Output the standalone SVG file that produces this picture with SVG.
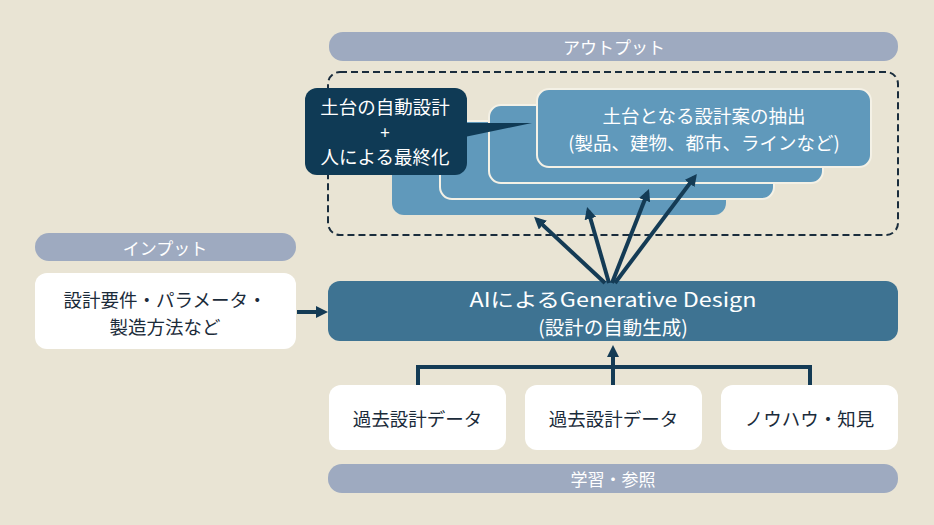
<svg xmlns="http://www.w3.org/2000/svg" width="934" height="525" viewBox="0 0 934 525">
<style>
.t{font-family:"Noto Sans CJK JP","Noto Sans",sans-serif;text-anchor:middle;dominant-baseline:central;font-weight:400}
.w{fill:#ffffff}
.d{fill:#1b2b3a}
.bar{fill:#9eaac0}
.wb{fill:#ffffff}
.card{fill:#6099bb}
.cs{stroke:#f4f1e6;stroke-width:2}
.ln{stroke:#143b55;stroke-width:4;fill:none}
</style>
<defs>
<marker id="ah" viewBox="0 0 12 12" markerWidth="12" markerHeight="12" refX="8" refY="6" orient="auto" markerUnits="userSpaceOnUse">
<path d="M0,0 L12,6 L0,12 z" fill="#143b55"/>
</marker>
</defs>
<rect width="934" height="525" fill="#e9e4d4"/>

<g id="output-label">
<rect class="bar" x="329" y="32" width="569" height="29" rx="14"/>
<text class="t w" x="614" y="46.5" font-size="17">アウトプット</text>
</g>

<g id="output-area">
<rect x="328" y="72" width="570" height="163" rx="12" fill="none" stroke="#1a2d3d" stroke-width="2" stroke-dasharray="7 4"/>
</g>

<g id="design-cards">
<rect class="card" x="392" y="137" width="334" height="78" rx="12"/>
<rect class="card cs" x="440" y="121" width="334" height="78" rx="12"/>
<rect class="card cs" x="489" y="105" width="334" height="78" rx="12"/>
<rect class="card cs" x="537" y="89" width="334" height="78" rx="12"/>
<text class="t w" x="704" y="115" font-size="18.5">土台となる設計案の抽出</text>
<text class="t w" x="704" y="142" font-size="18.5">(製品、建物、都市、ラインなど)</text>
</g>

<g id="callout">
<polygon points="455,123 532,123 455,139" fill="#0f3a55"/>
<rect x="305" y="88" width="162" height="87" rx="12" fill="#0f3a55"/>
<text class="t w" x="385" y="106" font-size="18.5" font-weight="500">土台の自動設計</text>
<text class="t w" x="385" y="131" font-size="17">+</text>
<text class="t w" x="385" y="156" font-size="18.5" font-weight="500">人による最終化</text>
</g>

<g id="input-label">
<rect class="bar" x="35" y="233" width="261" height="28" rx="14"/>
<text class="t w" x="165" y="247" font-size="17">インプット</text>
</g>

<g id="input-box">
<rect class="wb" x="35" y="273" width="261" height="76" rx="12"/>
<text class="t d" x="165" y="299" font-size="18.5" font-weight="500">設計要件・パラメータ・</text>
<text class="t d" x="165" y="326" font-size="18.5" font-weight="500">製造方法など</text>
</g>

<g id="ai-box">
<rect x="328" y="281" width="570" height="60" rx="12" fill="#3e7392"/>
<text class="t w" x="613" y="298" font-size="19.5" textLength="287" lengthAdjust="spacingAndGlyphs">AIによるGenerative Design</text>
<text class="t w" x="613" y="326" font-size="19.5">(設計の自動生成)</text>
</g>

<g id="data-1">
<rect class="wb" x="329" y="385" width="177" height="65" rx="12"/>
<text class="t d" x="417.5" y="418" font-size="18.5" font-weight="500">過去設計データ</text>
</g>
<g id="data-2">
<rect class="wb" x="525" y="385" width="177" height="65" rx="12"/>
<text class="t d" x="613.5" y="418" font-size="18.5" font-weight="500">過去設計データ</text>
</g>
<g id="knowhow">
<rect class="wb" x="721" y="385" width="177" height="65" rx="12"/>
<text class="t d" x="809.5" y="418" font-size="18.5" font-weight="500">ノウハウ・知見</text>
</g>

<g id="learning-label">
<rect class="bar" x="328" y="464" width="570" height="29" rx="14"/>
<text class="t w" x="613" y="478.5" font-size="17">学習・参照</text>
</g>

<g id="connectors">
<line class="ln" x1="297" y1="312" x2="324" y2="312" marker-end="url(#ah)"/>
<path class="ln" d="M418,385 V367 H810 V385"/>
<line class="ln" x1="613" y1="385" x2="613" y2="349" marker-end="url(#ah)"/>
<line class="ln" x1="605" y1="283" x2="537" y2="219.6" marker-end="url(#ah)"/>
<line class="ln" x1="609" y1="283" x2="588.2" y2="210.8" marker-end="url(#ah)"/>
<line class="ln" x1="612" y1="283" x2="647.5" y2="192.7" marker-end="url(#ah)"/>
<line class="ln" x1="615" y1="283" x2="694.5" y2="177.1" marker-end="url(#ah)"/>
</g>
</svg>
